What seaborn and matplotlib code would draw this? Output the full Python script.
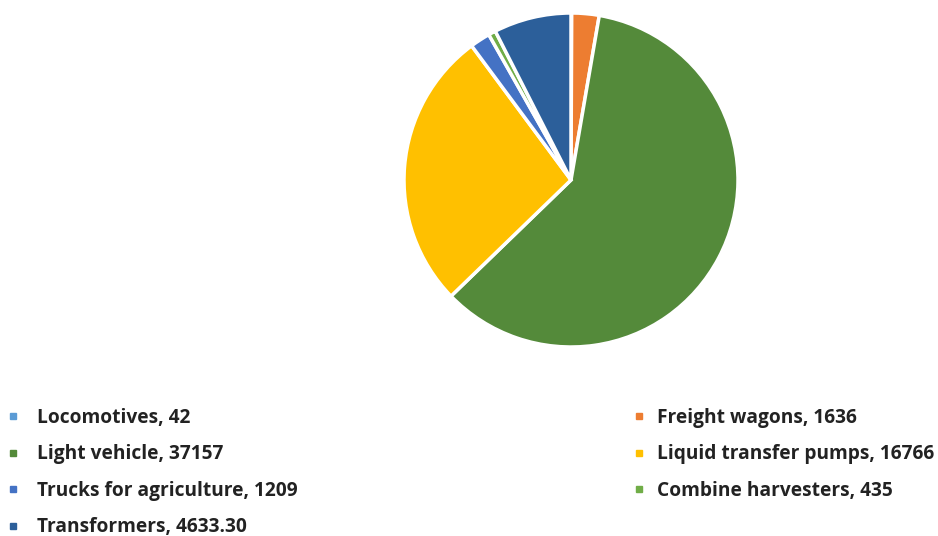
import matplotlib
matplotlib.use("Agg")
import matplotlib.pyplot as plt
from matplotlib.lines import Line2D
import seaborn as sns

categories = ["Locomotives", "Freight wagons", "Light vehicle", "Liquid transfer pumps",
              "Trucks for agriculture", "Combine harvesters", "Transformers"]
values = [42, 1636, 37157, 16766, 1209, 435, 4633.30]
value_labels = ["42", "1636", "37157", "16766", "1209", "435", "4633.30"]
colors = ["#5B9BD5", "#ED7D31", "#548A3A", "#FFC000", "#4472C4", "#70AD47", "#2C5F9A"]

sns.set_theme(style="white")
plt.rcParams['font.family'] = ['Open Sans', 'DejaVu Sans']

W, H = 938, 536
fig = plt.figure(figsize=(W / 100, H / 100), dpi=100)
cx, cy, r = 571, 180, 167
ax = fig.add_axes([(cx - r) / W, (H - cy - r) / H, 2 * r / W, 2 * r / H])
ax.pie(values, colors=colors, startangle=90, counterclock=False,
       wedgeprops=dict(edgecolor="white", linewidth=2.5), radius=1)
ax.set_xlim(-1.0, 1.0)
ax.set_ylim(-1.0, 1.0)
ax.set_aspect("equal")
ax.axis("off")

labels = [f"{c}, {v}" for c, v in zip(categories, value_labels)]
handles = [Line2D([], [], marker="s", linestyle="none", markersize=5,
                  markerfacecolor=col, markeredgecolor=col) for col in colors]

left_idx = [0, 2, 4, 6]
right_idx = [1, 3, 5]
common = dict(frameon=False, loc="upper left", borderpad=0, borderaxespad=0,
              handlelength=0.6, labelspacing=0.86,
              prop=dict(size=13.8, weight="bold"), labelcolor="#222222")
leg1 = fig.legend([handles[i] for i in left_idx], [labels[i] for i in left_idx],
                  bbox_to_anchor=(7.25 / W, 1 - 408 / H), handletextpad=0.95, **common)
leg2 = fig.legend([handles[i] for i in right_idx], [labels[i] for i in right_idx],
                  bbox_to_anchor=(633.25 / W, 1 - 408 / H), handletextpad=0.64, **common)

fig.savefig("out.png", dpi=100)
